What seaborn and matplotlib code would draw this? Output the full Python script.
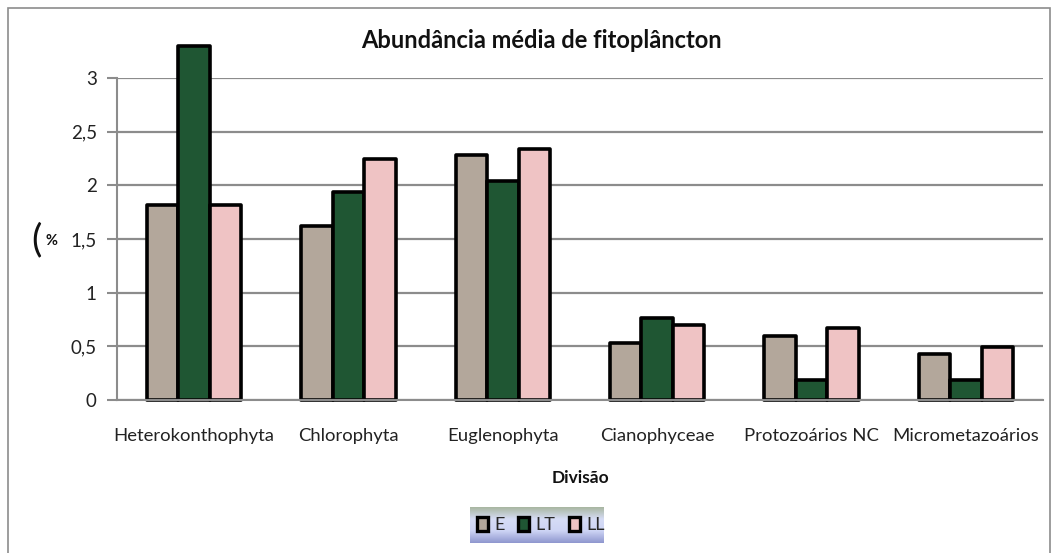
import numpy as np
import pandas as pd
import matplotlib
matplotlib.use("Agg")
import matplotlib.pyplot as plt
from matplotlib.patches import Patch, Rectangle
import seaborn as sns

categories = ["Heterokonthophyta", "Chlorophyta", "Euglenophyta",
              "Cianophyceae", "Protozoários NC", "Micrometazoários"]
series_names = ["E", "LT", "LL"]
values_E = [1.82, 1.62, 2.28, 0.53, 0.60, 0.43]
values_LT = [3.30, 1.94, 2.04, 0.76, 0.19, 0.19]
values_LL = [1.82, 2.25, 2.34, 0.70, 0.67, 0.49]
y_ticks = [0, 0.5, 1, 1.5, 2, 2.5, 3]
y_tick_labels = ["0", "0,5", "1", "1,5", "2", "2,5", "3"]

colors = {"E": "#b3a79b", "LT": "#1f5633", "LL": "#efc3c4"}

df = pd.DataFrame({
    "Divisão": categories * 3,
    "serie": ["E"] * 6 + ["LT"] * 6 + ["LL"] * 6,
    "valor": values_E + values_LT + values_LL,
})

sns.set_theme(style="white")
plt.rcParams["font.family"] = ["Lato", "DejaVu Sans"]

W, H = 1058, 553
fig = plt.figure(figsize=(W / 100, H / 100), dpi=100)
ax = fig.add_axes([117 / W, 1 - 400 / H, (1043 - 117) / W, (400 - 78) / H])

sns.barplot(data=df, x="Divisão", y="valor", hue="serie", order=categories,
            hue_order=series_names, palette=colors, saturation=1,
            width=0.61, gap=0, edgecolor="black", linewidth=2.6,
            errorbar=None, legend=False, ax=ax)
for p in ax.patches:
    p.set_clip_on(False)
    p.set_joinstyle("round")

ax.set_ylim(0, 3)
ax.set_xlim(-0.5, 5.5)
ax.set_yticks(y_ticks)
ax.set_yticklabels(y_tick_labels, fontsize=13.5, color="#222222")
ax.tick_params(axis="y", length=7, width=1.5, color="#8c8c8c", pad=7.5, left=True)
ax.tick_params(axis="x", length=0, labelsize=13.3, labelcolor="#222222", pad=20)
ax.yaxis.grid(True, color="#8c8c8c", linewidth=1.6)
ax.set_axisbelow(True)
for s in ["top", "right"]:
    ax.spines[s].set_visible(False)
ax.spines["left"].set_color("#8c8c8c")
ax.spines["left"].set_linewidth(1.5)
ax.spines["bottom"].set_color("#8c8c8c")
ax.spines["bottom"].set_linewidth(1.5)
ax.set_ylabel("")
ax.set_xlabel("Divisão", fontsize=12.5, fontweight="bold", labelpad=19, color="#111111")

fig.text(541 / W, 1 - 40 / H, "Abundância média de fitoplâncton", ha="center",
         va="center", fontsize=17, fontweight="bold", color="#111111")

# axis unit label
fig.text(36 / W, 1 - 240 / H, "(", ha="center", va="center", fontsize=28,
         color="#111111")
fig.text(51 / W, 1 - 241 / H, "%", ha="center", va="center", fontsize=10.5,
         fontweight="bold", color="#111111")

# outer chart border
fig.patches.append(Rectangle((8 / W, -0.01), (1050 - 8) / W, 1 - 8 / H + 0.01,
                             transform=fig.transFigure, fill=False,
                             edgecolor="#8c8c8c", linewidth=1.2))

# legend box with a soft vertical gradient
lax = fig.add_axes([470 / W, 1 - 543 / H, (604 - 470) / W, (543 - 507) / H])
grad = np.linspace(0, 1, 64).reshape(-1, 1)
cmap = matplotlib.colors.LinearSegmentedColormap.from_list(
    "lg", ["#a9b7a2", "#d6dcf6", "#cdd4f4", "#8f97cf"])
lax.imshow(grad, aspect="auto", cmap=cmap, extent=[0, 1, 0, 1], origin="upper")
lax.set_axis_off()

handles = [Patch(facecolor=colors[s], edgecolor="black", linewidth=2.4, label=s)
           for s in series_names]
fig.legend(handles=handles, loc="center", bbox_to_anchor=(541 / W, 1 - 525 / H),
           ncol=3, frameon=False, fontsize=13, handlelength=0.6,
           handleheight=0.85, handletextpad=0.35, columnspacing=0.75,
           borderpad=0.2)

fig.savefig("out.png", dpi=100)
